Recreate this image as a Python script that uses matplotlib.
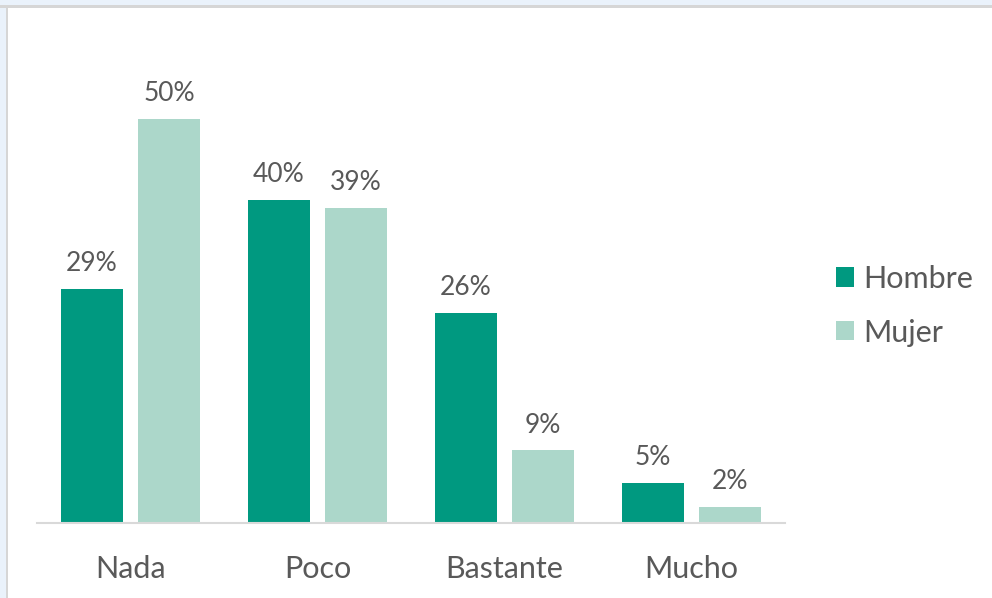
import matplotlib.pyplot as plt
import numpy as np
from matplotlib.patches import Rectangle

categories = ["Nada", "Poco", "Bastante", "Mucho"]
hombre = [29, 40, 26, 5]
mujer = [50, 39, 9, 2]
series_names = ["Hombre", "Mujer"]

plt.rcParams['font.family'] = ['Lato', 'DejaVu Sans']
text_color = "#595959"
c_hombre = "#009980"
c_mujer = "#acd7ca"

fig = plt.figure(figsize=(9.92, 5.98), dpi=100)
fig.patch.set_facecolor("white")

# screenshot frame: pale strip + grey border on top and left
fig.patches.append(Rectangle((0, 0.99), 1, 0.01, transform=fig.transFigure,
                             facecolor="#eaf2fb", edgecolor="none", zorder=0))
fig.patches.append(Rectangle((0, 0), 0.006, 1, transform=fig.transFigure,
                             facecolor="#eaf2fb", edgecolor="none", zorder=0))
fig.patches.append(Rectangle((0, 0.987), 1, 0.004, transform=fig.transFigure,
                             facecolor="#d6d6d6", edgecolor="none", zorder=1))
fig.patches.append(Rectangle((0.006, 0), 0.0025, 0.99, transform=fig.transFigure,
                             facecolor="#d6d6d6", edgecolor="none", zorder=1))

ax = fig.add_axes([0.0373, 0.1254, 0.754, 0.811])
x = np.arange(len(categories))
w = 0.327
off = 0.206
b1 = ax.bar(x - off, hombre, w, color=c_hombre, label=series_names[0])
b2 = ax.bar(x + off, mujer, w, color=c_mujer, label=series_names[1])

for bars, vals in [(b1, hombre), (b2, mujer)]:
    for b, v in zip(bars, vals):
        ax.annotate(f"{v}%", (b.get_x() + b.get_width() / 2, v),
                    xytext=(0, 9), textcoords="offset points",
                    ha="center", va="bottom", fontsize=19, color=text_color)

ax.set_xlim(-0.5, 3.5)
ax.set_ylim(0, 60)
ax.set_xticks(x)
ax.set_xticklabels(categories, fontsize=22, color=text_color)
ax.tick_params(axis="x", length=0, pad=23)
ax.set_yticks([])
for s in ["top", "right", "left"]:
    ax.spines[s].set_visible(False)
ax.spines["bottom"].set_color("#d9d9d9")
ax.spines["bottom"].set_linewidth(1.5)

fig.legend(handles=[b1, b2], labels=series_names, loc="center left",
           bbox_to_anchor=(0.815, 0.489), frameon=False, fontsize=22,
           labelcolor=text_color, handlelength=0.6, handleheight=0.6,
           handletextpad=0.3, labelspacing=0.85)

fig.savefig("out.png", dpi=100)
